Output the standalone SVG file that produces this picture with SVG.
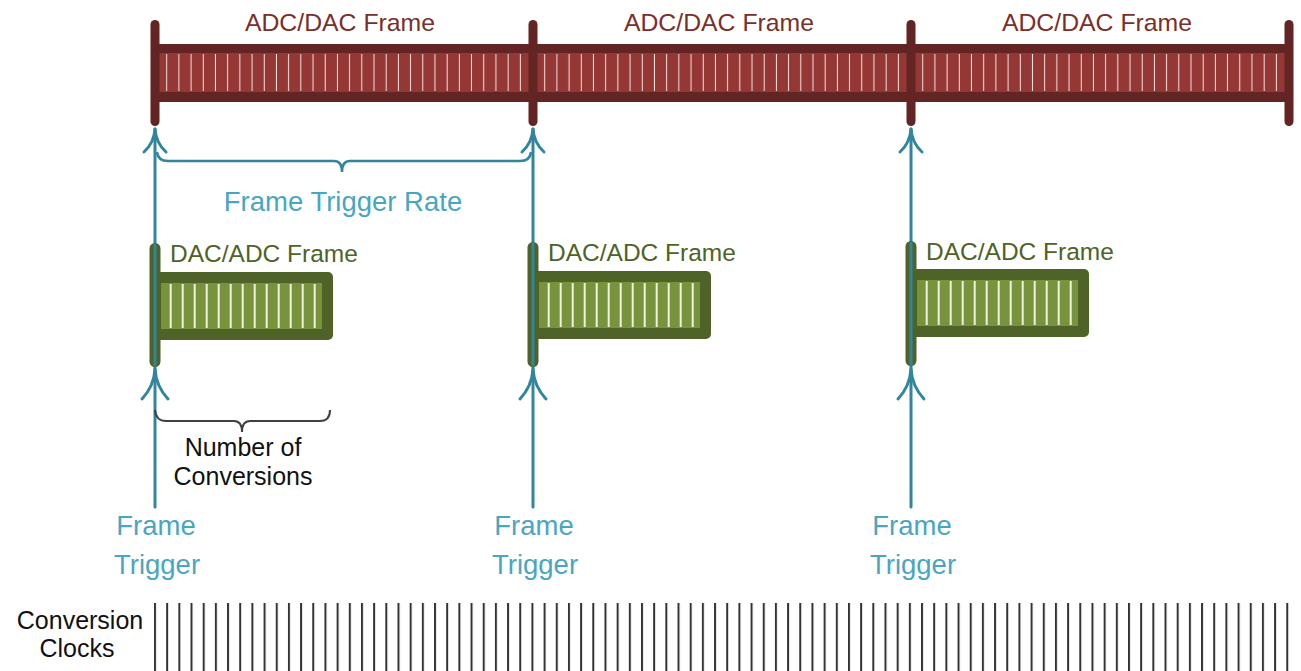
<svg xmlns="http://www.w3.org/2000/svg" width="1301" height="671" viewBox="0 0 1301 671">
<defs>
<style>
.txt{font-family:"Liberation Sans",Arial,sans-serif;}
.red-title{fill:#7a2f2b;font-size:24.8px;text-anchor:middle;}
.green-title{fill:#4f6228;font-size:24.5px;}
.teal-txt{fill:#4aa6bf;font-size:27.5px;text-anchor:middle;}
.blk{fill:#111;font-size:25px;text-anchor:middle;}
.post-red{fill:#632523;}
.gdark{fill:#4f6228;}
.glight{fill:#77933c;}
.gtick{stroke:#f0f0e0;stroke-width:2;fill:none;}
.teal{stroke:#31859c;stroke-width:3;fill:none;stroke-linecap:round;stroke-linejoin:round;}
.brace-t{stroke:#31859c;stroke-width:2.5;fill:none;}
.brace-k{stroke:#404040;stroke-width:2;fill:none;}
</style>
<pattern id="redTicks" patternUnits="userSpaceOnUse" x="155" y="0" width="12.194" height="671">
<rect x="11.2" y="0" width="2" height="671" fill="#f2e4e2"/>
</pattern>
<pattern id="clk" patternUnits="userSpaceOnUse" x="154" y="0" width="12.175" height="671">
<rect x="0" y="0" width="2" height="671" fill="#333"/>
</pattern>
</defs>
<rect width="1301" height="671" fill="#fff"/>

<!-- Top red frame bar -->
<g id="frame-bar">
<rect x="155" y="44" width="1134" height="58" class="post-red"/>
<rect x="159" y="53" width="1126" height="39" fill="#953735"/>
<rect x="159" y="54" width="1126" height="37" fill="url(#redTicks)"/>
<rect x="150.5" y="20" width="9" height="106" rx="4.5" class="post-red"/>
<rect x="528.5" y="20" width="9" height="106" rx="4.5" class="post-red"/>
<rect x="906.5" y="20" width="9" height="106" rx="4.5" class="post-red"/>
<rect x="1284.5" y="20" width="9" height="106" rx="4.5" class="post-red"/>
<text class="txt red-title" x="340" y="31">ADC/DAC Frame</text>
<text class="txt red-title" x="719" y="31">ADC/DAC Frame</text>
<text class="txt red-title" x="1097" y="31">ADC/DAC Frame</text>
</g>

<!-- Connectors: trigger arrows and braces -->
<g id="connectors">
<line class="teal" x1="155" y1="507" x2="155" y2="129"/>
<line class="teal" x1="533" y1="507" x2="533" y2="129"/>
<line class="teal" x1="911" y1="507" x2="911" y2="129"/>
<path class="teal" d="M144 152 Q154 143 155 129 Q156 143 166 152"/>
<path class="teal" d="M522 152 Q532 143 533 129 Q534 143 544 152"/>
<path class="teal" d="M900 152 Q910 143 911 129 Q912 143 922 152"/>
<path class="teal" d="M142 399 Q154 386 155 369 Q156 386 168 399"/>
<path class="teal" d="M520 399 Q532 386 533 369 Q534 386 546 399"/>
<path class="teal" d="M898 399 Q910 386 911 369 Q912 386 924 399"/>
<path class="brace-t" d="M157 152 Q158 161 168 161 H334 Q342 161 342 172 Q342 161 350 161 H520 Q530 161 531 152"/>
<path class="brace-k" d="M155 410 Q156 421 166 421 H234 Q242 421 242 432 Q242 421 250 421 H320 Q330 421 330 410"/>
</g>

<g id="rate-label">
<text class="txt teal-txt" x="343" y="211" font-size="28">Frame Trigger Rate</text>
</g>

<!-- Green conversion frames -->
<g id="conv-frame-1">
<rect x="155" y="272" width="178" height="68" rx="5" class="gdark"/>
<rect x="161" y="283" width="161" height="46" class="glight"/>
<path class="gtick" d="M170.7 284v44m12 -44v44m12 -44v44m12 -44v44m12 -44v44m12 -44v44m12 -44v44m12 -44v44m12 -44v44m12 -44v44m12 -44v44m12 -44v44m12 -44v44"/>
<rect x="149.5" y="243" width="11" height="124" rx="5.5" class="gdark"/>
<line class="teal" x1="155" y1="245" x2="155" y2="365" stroke-width="2.5"/>
<text class="txt green-title" x="170" y="262">DAC/ADC Frame</text>
</g>
<g id="conv-frame-2">
<rect x="533" y="271" width="178" height="68" rx="5" class="gdark"/>
<rect x="539" y="282" width="161" height="46" class="glight"/>
<path class="gtick" d="M548.7 283v44m12 -44v44m12 -44v44m12 -44v44m12 -44v44m12 -44v44m12 -44v44m12 -44v44m12 -44v44m12 -44v44m12 -44v44m12 -44v44m12 -44v44"/>
<rect x="527.5" y="242" width="11" height="125" rx="5.5" class="gdark"/>
<line class="teal" x1="533" y1="244" x2="533" y2="365" stroke-width="2.5"/>
<text class="txt green-title" x="548" y="261">DAC/ADC Frame</text>
</g>
<g id="conv-frame-3">
<rect x="911" y="269" width="178" height="68" rx="5" class="gdark"/>
<rect x="917" y="280" width="161" height="46" class="glight"/>
<path class="gtick" d="M926.7 281v44m12 -44v44m12 -44v44m12 -44v44m12 -44v44m12 -44v44m12 -44v44m12 -44v44m12 -44v44m12 -44v44m12 -44v44m12 -44v44m12 -44v44"/>
<rect x="905.5" y="241" width="11" height="125" rx="5.5" class="gdark"/>
<line class="teal" x1="911" y1="243" x2="911" y2="364" stroke-width="2.5"/>
<text class="txt green-title" x="926" y="260">DAC/ADC Frame</text>
</g>

<g id="num-conv-label">
<text class="txt blk" x="243" y="456">Number of</text>
<text class="txt blk" x="243" y="485">Conversions</text>
</g>

<g id="trigger-1">
<text class="txt teal-txt" x="156" y="535">Frame</text>
<text class="txt teal-txt" x="157" y="574">Trigger</text>
</g>
<g id="trigger-2">
<text class="txt teal-txt" x="534" y="535">Frame</text>
<text class="txt teal-txt" x="535" y="574">Trigger</text>
</g>
<g id="trigger-3">
<text class="txt teal-txt" x="912" y="535">Frame</text>
<text class="txt teal-txt" x="913" y="574">Trigger</text>
</g>

<g id="conversion-clocks">
<text class="txt blk" x="80" y="629" font-size="24">Conversion</text>
<text class="txt blk" x="77" y="657" font-size="24">Clocks</text>
<rect x="154" y="603" width="1136" height="68" fill="url(#clk)"/>
</g>
</svg>
